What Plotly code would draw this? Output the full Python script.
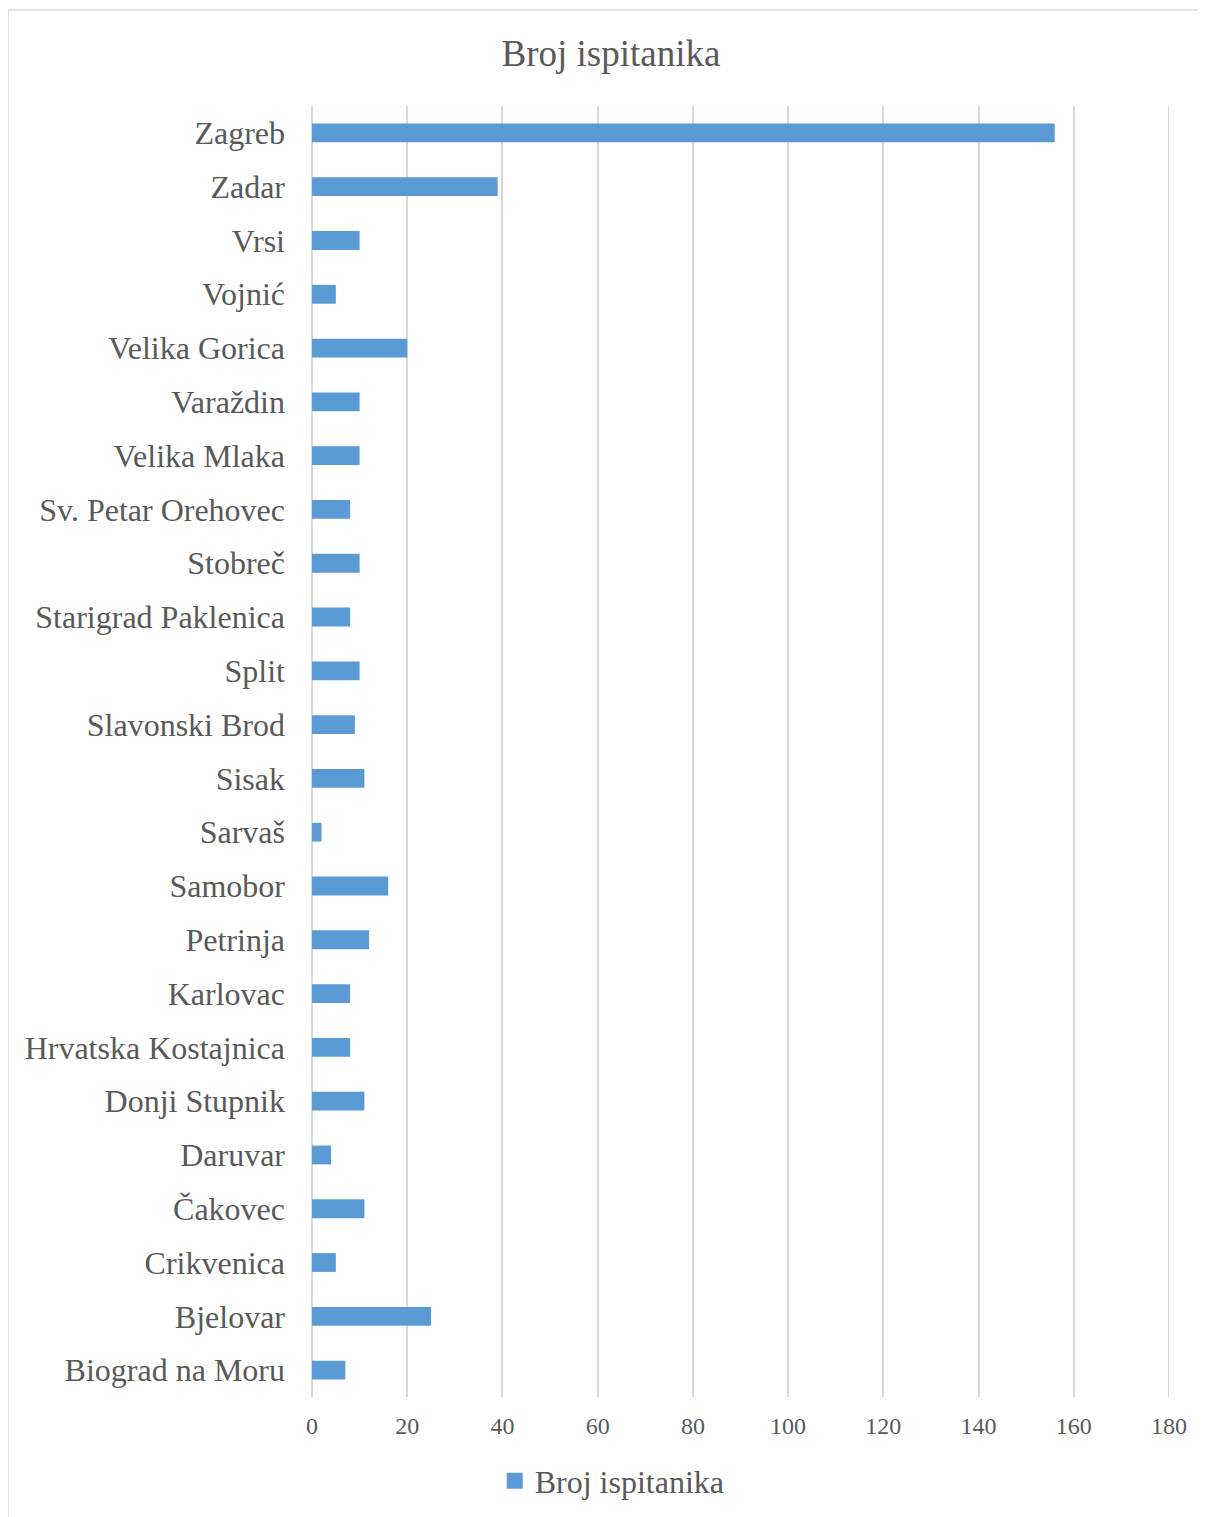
import plotly.graph_objects as go

categories = ["Zagreb", "Zadar", "Vrsi", "Vojnić", "Velika Gorica", "Varaždin",
              "Velika Mlaka", "Sv. Petar Orehovec", "Stobreč", "Starigrad Paklenica",
              "Split", "Slavonski Brod", "Sisak", "Sarvaš", "Samobor", "Petrinja",
              "Karlovac", "Hrvatska Kostajnica", "Donji Stupnik", "Daruvar",
              "Čakovec", "Crikvenica", "Bjelovar", "Biograd na Moru"]
values = [156, 39, 10, 5, 20, 10, 10, 8, 10, 8, 10, 9, 11, 2, 16, 12, 8, 8, 11, 4, 11, 5, 25, 7]
series_name = "Broj ispitanika"
x_ticks = [0, 20, 40, 60, 80, 100, 120, 140, 160, 180]

FONT = "Liberation Serif, Times New Roman, serif"
TXT = "#595959"
GRID = "#d9d9d9"
BAR = "#5b9bd5"

fig = go.Figure()
fig.add_trace(go.Bar(
    y=categories, x=values, orientation="h", name=series_name,
    marker=dict(color=BAR, line=dict(width=0)),
    showlegend=False,
))
# legend entry with a larger square swatch
fig.add_trace(go.Scatter(
    x=[None], y=[None], mode="markers", name=series_name,
    marker=dict(symbol="square", size=16, color=BAR),
    showlegend=True, hoverinfo="skip",
))

fig.update_layout(
    width=1206, height=1517,
    margin=dict(l=304, r=45, t=98, b=128),
    paper_bgcolor="white", plot_bgcolor="white",
    font=dict(family=FONT, color=TXT),
    title=dict(text="Broj ispitanika", x=0.5, xref="container", xanchor="center",
               y=1 - 45 / 1517, yanchor="middle", yref="container",
               font=dict(size=37, color=TXT, family=FONT)),
    bargap=0.65,
    showlegend=True,
    legend=dict(orientation="h", x=0.501, xref="container", xanchor="center",
                y=1 - 1473 / 1517, yref="container", yanchor="middle",
                font=dict(size=32, color=TXT, family=FONT),
                itemwidth=30),
    xaxis=dict(range=[0, 180], tickvals=x_ticks, showgrid=True, gridcolor=GRID, gridwidth=2,
               zeroline=True, zerolinecolor=GRID, zerolinewidth=2, showline=False, ticks="",
               tickfont=dict(size=24, color=TXT, family=FONT), ticklabelstandoff=12),
    yaxis=dict(categoryorder="array", categoryarray=categories[::-1],
               showgrid=False, zeroline=False, showline=False, ticks="",
               tickfont=dict(size=32, color=TXT, family=FONT), ticklabelstandoff=26),
)

# gridline at the last tick (plotly skips gridlines at the range edge)
fig.add_shape(type="line", xref="x", yref="paper", x0=x_ticks[-1], x1=x_ticks[-1], y0=0, y1=1,
              line=dict(color=GRID, width=2), layer="below")

# chart border (cropped at right/bottom like the reference)
fig.add_shape(type="rect", xref="paper", yref="paper",
              x0=(0 - 304) / 857, x1=(1215 - 304) / 857,
              y0=(1389 - 1540) / 1291, y1=(1389 - 2) / 1291,
              line=dict(color="#d9d9d9", width=1.5), fillcolor="rgba(0,0,0,0)", layer="below")

fig.write_html("out.html")
